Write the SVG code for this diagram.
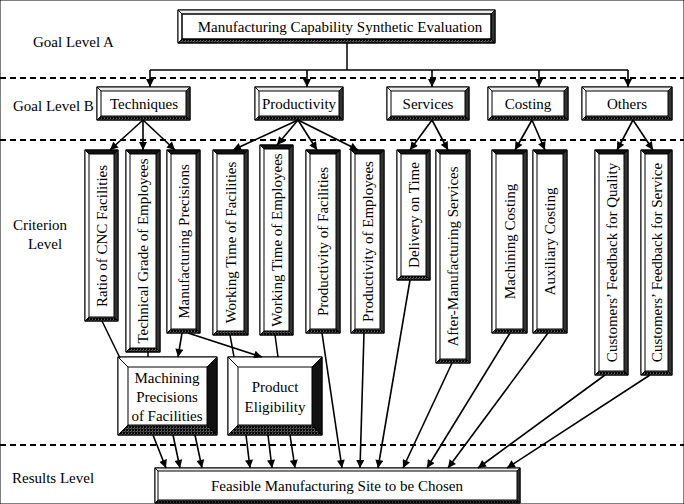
<svg xmlns="http://www.w3.org/2000/svg" width="684" height="504" viewBox="0 0 684 504" font-family="'Liberation Serif','Times New Roman',serif">
<defs>
<pattern id="ht" width="3" height="3" patternUnits="userSpaceOnUse"><rect width="3" height="3" fill="#c8c8c8" stroke="none"/><rect width="1.5" height="1.5" fill="#222" stroke="none"/></pattern>
<marker id="ah" viewBox="0 0 10 10" refX="10" refY="5" markerWidth="10" markerHeight="8" markerUnits="userSpaceOnUse" orient="auto"><path d="M0,0 L10,5 L0,10 z" fill="#000"/></marker>
</defs>
<style>
text{font-family:"Liberation Serif","Times New Roman",serif;font-size:15px;fill:#000}
.c{text-anchor:middle}
polygon,rect{stroke:#000;stroke-width:1;stroke-linejoin:miter}
.w{fill:#fff}.lt{fill:#ececec}.dk{fill:#333}.bk{fill:#111}.g{fill:url(#ht)}
.in{fill:none}
.dash{stroke:#000;stroke-width:2;stroke-dasharray:6 4;fill:none}
.ln{stroke:#000;stroke-width:1.5;fill:none}
.ar{stroke:#000;stroke-width:1.6;fill:none;marker-end:url(#ah)}
</style>
<rect width="684" height="504" fill="#fff" stroke="none"/>
<g id="levels">
<line class="dash" x1="0" y1="78" x2="684" y2="78"/>
<line class="dash" x1="0" y1="140" x2="684" y2="140"/>
<line class="dash" x1="0" y1="445" x2="684" y2="445"/>
<text x="33" y="47">Goal Level A</text>
<text x="13" y="111">Goal Level B</text>
<text class="c" x="40" y="230">Criterion</text>
<text class="c" x="45" y="249">Level</text>
<text x="12" y="483">Results Level</text>
</g>
<g id="goalA">
<rect class="w" x="178" y="10" width="317" height="33"/>
<polygon class="lt" points="178,10 495,10 491,14 182,14"/>
<polygon class="w" points="178,10 182,14 182,39 178,43"/>
<polygon class="dk" points="495,10 495,43 491,39 491,14"/>
<polygon class="g" points="178,43 495,43 491,39 182,39"/>
<rect class="in" x="182" y="14" width="309" height="25"/>
<text class="c" x="340" y="32">Manufacturing Capability Synthetic Evaluation</text>
</g>
<g id="techniques">
<rect class="w" x="97" y="87" width="93" height="33"/>
<polygon class="lt" points="97,87 190,87 186,91 101,91"/>
<polygon class="w" points="97,87 101,91 101,116 97,120"/>
<polygon class="dk" points="190,87 190,120 186,116 186,91"/>
<polygon class="g" points="97,120 190,120 186,116 101,116"/>
<text class="c" x="144" y="109">Techniques</text>
</g>
<g id="productivity">
<rect class="w" x="255" y="87" width="88" height="33"/>
<polygon class="lt" points="255,87 343,87 339,91 259,91"/>
<polygon class="w" points="255,87 259,91 259,116 255,120"/>
<polygon class="dk" points="343,87 343,120 339,116 339,91"/>
<polygon class="g" points="255,120 343,120 339,116 259,116"/>
<text class="c" x="299" y="109">Productivity</text>
</g>
<g id="services">
<rect class="w" x="387" y="87" width="82" height="33"/>
<polygon class="lt" points="387,87 469,87 465,91 391,91"/>
<polygon class="w" points="387,87 391,91 391,116 387,120"/>
<polygon class="dk" points="469,87 469,120 465,116 465,91"/>
<polygon class="g" points="387,120 469,120 465,116 391,116"/>
<text class="c" x="428" y="109">Services</text>
</g>
<g id="costing">
<rect class="w" x="488" y="87" width="80" height="33"/>
<polygon class="lt" points="488,87 568,87 564,91 492,91"/>
<polygon class="w" points="488,87 492,91 492,116 488,120"/>
<polygon class="dk" points="568,87 568,120 564,116 564,91"/>
<polygon class="g" points="488,120 568,120 564,116 492,116"/>
<text class="c" x="528" y="109">Costing</text>
</g>
<g id="others">
<rect class="w" x="582" y="87" width="90" height="33"/>
<polygon class="lt" points="582,87 672,87 668,91 586,91"/>
<polygon class="w" points="582,87 586,91 586,116 582,120"/>
<polygon class="dk" points="672,87 672,120 668,116 668,91"/>
<polygon class="g" points="582,120 672,120 668,116 586,116"/>
<text class="c" x="627" y="109">Others</text>
</g>
<g id="c1">
<rect class="w" x="85" y="150" width="33" height="171"/>
<polygon class="bk" points="85,150 118,150 114,154 89,154"/>
<polygon class="w" points="85,150 89,154 89,317 85,321"/>
<polygon class="dk" points="118,150 118,321 114,317 114,154"/>
<polygon class="g" points="85,321 118,321 114,317 89,317"/>
<text class="c" transform="translate(101.5,236) rotate(-90)" y="5">Ratio of CNC Facilities</text>
</g>
<g id="c2">
<rect class="w" x="126" y="150" width="34" height="202"/>
<polygon class="bk" points="126,150 160,150 156,154 130,154"/>
<polygon class="w" points="126,150 130,154 130,348 126,352"/>
<polygon class="dk" points="160,150 160,352 156,348 156,154"/>
<polygon class="g" points="126,352 160,352 156,348 130,348"/>
<text class="c" transform="translate(143,251) rotate(-90)" y="5">Technical Grade of Employees</text>
</g>
<g id="c3">
<rect class="w" x="167" y="150" width="33" height="183"/>
<polygon class="bk" points="167,150 200,150 196,154 171,154"/>
<polygon class="w" points="167,150 171,154 171,329 167,333"/>
<polygon class="dk" points="200,150 200,333 196,329 196,154"/>
<polygon class="g" points="167,333 200,333 196,329 171,329"/>
<text class="c" transform="translate(183.5,241.5) rotate(-90)" y="5">Manufacturing Precisions</text>
</g>
<g id="c4">
<rect class="w" x="213" y="150" width="35" height="185"/>
<polygon class="bk" points="213,150 248,150 244,154 217,154"/>
<polygon class="w" points="213,150 217,154 217,331 213,335"/>
<polygon class="dk" points="248,150 248,335 244,331 244,154"/>
<polygon class="g" points="213,335 248,335 244,331 217,331"/>
<text class="c" transform="translate(230.5,242.5) rotate(-90)" y="5">Working Time of Facilities</text>
</g>
<g id="c5">
<rect class="w" x="260" y="145" width="33" height="190"/>
<polygon class="bk" points="260,145 293,145 289,149 264,149"/>
<polygon class="w" points="260,145 264,149 264,331 260,335"/>
<polygon class="dk" points="293,145 293,335 289,331 289,149"/>
<polygon class="g" points="260,335 293,335 289,331 264,331"/>
<text class="c" transform="translate(276.5,240) rotate(-90)" y="5">Working Time of Employees</text>
</g>
<g id="c6">
<rect class="w" x="306" y="150" width="34" height="183"/>
<polygon class="bk" points="306,150 340,150 336,154 310,154"/>
<polygon class="w" points="306,150 310,154 310,329 306,333"/>
<polygon class="dk" points="340,150 340,333 336,329 336,154"/>
<polygon class="g" points="306,333 340,333 336,329 310,329"/>
<text class="c" transform="translate(323,241.5) rotate(-90)" y="5">Productivity of Facilities</text>
</g>
<g id="c7">
<rect class="w" x="351" y="150" width="33" height="183"/>
<polygon class="bk" points="351,150 384,150 380,154 355,154"/>
<polygon class="w" points="351,150 355,154 355,329 351,333"/>
<polygon class="dk" points="384,150 384,333 380,329 380,154"/>
<polygon class="g" points="351,333 384,333 380,329 355,329"/>
<text class="c" transform="translate(367.5,241.5) rotate(-90)" y="5">Productivity of Employees</text>
</g>
<g id="c8">
<rect class="w" x="397" y="150" width="33" height="130"/>
<polygon class="bk" points="397,150 430,150 426,154 401,154"/>
<polygon class="w" points="397,150 401,154 401,276 397,280"/>
<polygon class="dk" points="430,150 430,280 426,276 426,154"/>
<polygon class="g" points="397,280 430,280 426,276 401,276"/>
<text class="c" transform="translate(413.5,215) rotate(-90)" y="5">Delivery on Time</text>
</g>
<g id="c9">
<rect class="w" x="436" y="150" width="34" height="213"/>
<polygon class="bk" points="436,150 470,150 466,154 440,154"/>
<polygon class="w" points="436,150 440,154 440,359 436,363"/>
<polygon class="dk" points="470,150 470,363 466,359 466,154"/>
<polygon class="g" points="436,363 470,363 466,359 440,359"/>
<text class="c" transform="translate(453,256.5) rotate(-90)" y="5">After-Manufacturing Services</text>
</g>
<g id="c10">
<rect class="w" x="492" y="150" width="35" height="183"/>
<polygon class="bk" points="492,150 527,150 523,154 496,154"/>
<polygon class="w" points="492,150 496,154 496,329 492,333"/>
<polygon class="dk" points="527,150 527,333 523,329 523,154"/>
<polygon class="g" points="492,333 527,333 523,329 496,329"/>
<text class="c" transform="translate(509.5,241.5) rotate(-90)" y="5">Machining Costing</text>
</g>
<g id="c11">
<rect class="w" x="533" y="150" width="34" height="183"/>
<polygon class="bk" points="533,150 567,150 563,154 537,154"/>
<polygon class="w" points="533,150 537,154 537,329 533,333"/>
<polygon class="dk" points="567,150 567,333 563,329 563,154"/>
<polygon class="g" points="533,333 567,333 563,329 537,329"/>
<text class="c" transform="translate(550,241.5) rotate(-90)" y="5">Auxiliary Costing</text>
</g>
<g id="c12">
<rect class="w" x="595" y="150" width="33" height="225"/>
<polygon class="bk" points="595,150 628,150 624,154 599,154"/>
<polygon class="w" points="595,150 599,154 599,371 595,375"/>
<polygon class="dk" points="628,150 628,375 624,371 624,154"/>
<polygon class="g" points="595,375 628,375 624,371 599,371"/>
<text class="c" transform="translate(611.5,262.5) rotate(-90)" y="5">Customers’ Feedback for Quality</text>
</g>
<g id="c13">
<rect class="w" x="641" y="150" width="31" height="225"/>
<polygon class="bk" points="641,150 672,150 668,154 645,154"/>
<polygon class="w" points="641,150 645,154 645,371 641,375"/>
<polygon class="dk" points="672,150 672,375 668,371 668,154"/>
<polygon class="g" points="641,375 672,375 668,371 645,371"/>
<text class="c" transform="translate(656.5,262.5) rotate(-90)" y="5">Customers’ Feedback for Service</text>
</g>
<g id="machining">
<rect class="w" x="118" y="357" width="99" height="78"/>
<polygon class="w" points="118,357 217,357 207,367 128,367"/>
<polygon class="w" points="118,357 128,367 128,425 118,435"/>
<polygon class="bk" points="217,357 217,435 207,425 207,367"/>
<polygon class="g" points="118,435 217,435 207,425 128,425"/>
<text class="c" x="167" y="383">Machining</text>
<text class="c" x="167" y="402">Precisions</text>
<text class="c" x="167" y="421">of Facilities</text>
</g>
<g id="eligibility">
<rect class="w" x="228" y="357" width="94" height="78"/>
<polygon class="w" points="228,357 322,357 312,367 238,367"/>
<polygon class="w" points="228,357 238,367 238,425 228,435"/>
<polygon class="bk" points="322,357 322,435 312,425 312,367"/>
<polygon class="g" points="228,435 322,435 312,425 238,425"/>
<text class="c" x="275" y="392">Product</text>
<text class="c" x="275" y="412">Eligibility</text>
</g>
<g id="result">
<rect class="w" x="155" y="468" width="365" height="35"/>
<polygon class="lt" points="155,468 520,468 517,471 158,471"/>
<polygon class="w" points="155,468 158,471 158,500 155,503"/>
<polygon class="dk" points="520,468 520,503 517,500 517,471"/>
<polygon class="g" points="155,503 520,503 517,500 158,500"/>
<text class="c" x="337" y="491">Feasible Manufacturing Site to be Chosen</text>
</g>
<g id="connectors">
<line class="ln" x1="347" y1="43" x2="347" y2="70"/>
<line class="ln" x1="150" y1="70" x2="628" y2="70"/>
<line class="ar" x1="150" y1="70" x2="150" y2="87"/>
<line class="ar" x1="307" y1="70" x2="307" y2="87"/>
<line class="ar" x1="432" y1="70" x2="432" y2="87"/>
<line class="ar" x1="539" y1="70" x2="539" y2="87"/>
<line class="ar" x1="628" y1="70" x2="628" y2="87"/>
<line class="ar" x1="143" y1="120" x2="110" y2="150"/>
<line class="ar" x1="143" y1="120" x2="143" y2="150"/>
<line class="ar" x1="143" y1="120" x2="175" y2="150"/>
<line class="ar" x1="298" y1="120" x2="233" y2="150"/>
<line class="ar" x1="298" y1="120" x2="277" y2="145"/>
<line class="ar" x1="298" y1="120" x2="317" y2="150"/>
<line class="ar" x1="298" y1="120" x2="358" y2="150"/>
<line class="ar" x1="432" y1="120" x2="410" y2="150"/>
<line class="ar" x1="432" y1="120" x2="448" y2="150"/>
<line class="ar" x1="532" y1="120" x2="515" y2="150"/>
<line class="ar" x1="532" y1="120" x2="545" y2="150"/>
<line class="ar" x1="633" y1="120" x2="617" y2="150"/>
<line class="ar" x1="633" y1="120" x2="653" y2="150"/>
<line class="ln" x1="102" y1="321" x2="120" y2="358"/>
<line class="ln" x1="148" y1="352" x2="148" y2="357"/>
<line class="ar" x1="182" y1="333" x2="178" y2="357"/>
<line class="ar" x1="188" y1="333" x2="262" y2="357"/>
<line class="ln" x1="230" y1="335" x2="234" y2="357"/>
<line class="ln" x1="275" y1="335" x2="278" y2="357"/>
<line class="ar" x1="322" y1="333" x2="342" y2="468"/>
<line class="ar" x1="153" y1="435" x2="166" y2="468"/>
<line class="ar" x1="173" y1="435" x2="180" y2="468"/>
<line class="ar" x1="195" y1="435" x2="202" y2="468"/>
<line class="ar" x1="246" y1="435" x2="250" y2="468"/>
<line class="ar" x1="268" y1="435" x2="272" y2="468"/>
<line class="ar" x1="290" y1="435" x2="295" y2="468"/>
<line class="ar" x1="364" y1="333" x2="360" y2="468"/>
<line class="ar" x1="410" y1="280" x2="378" y2="468"/>
<line class="ar" x1="452" y1="363" x2="403" y2="468"/>
<line class="ar" x1="510" y1="333" x2="427" y2="468"/>
<line class="ar" x1="548" y1="333" x2="448" y2="468"/>
<line class="ar" x1="605" y1="375" x2="478" y2="468"/>
<line class="ar" x1="650" y1="375" x2="507" y2="468"/>
</g>
</svg>
